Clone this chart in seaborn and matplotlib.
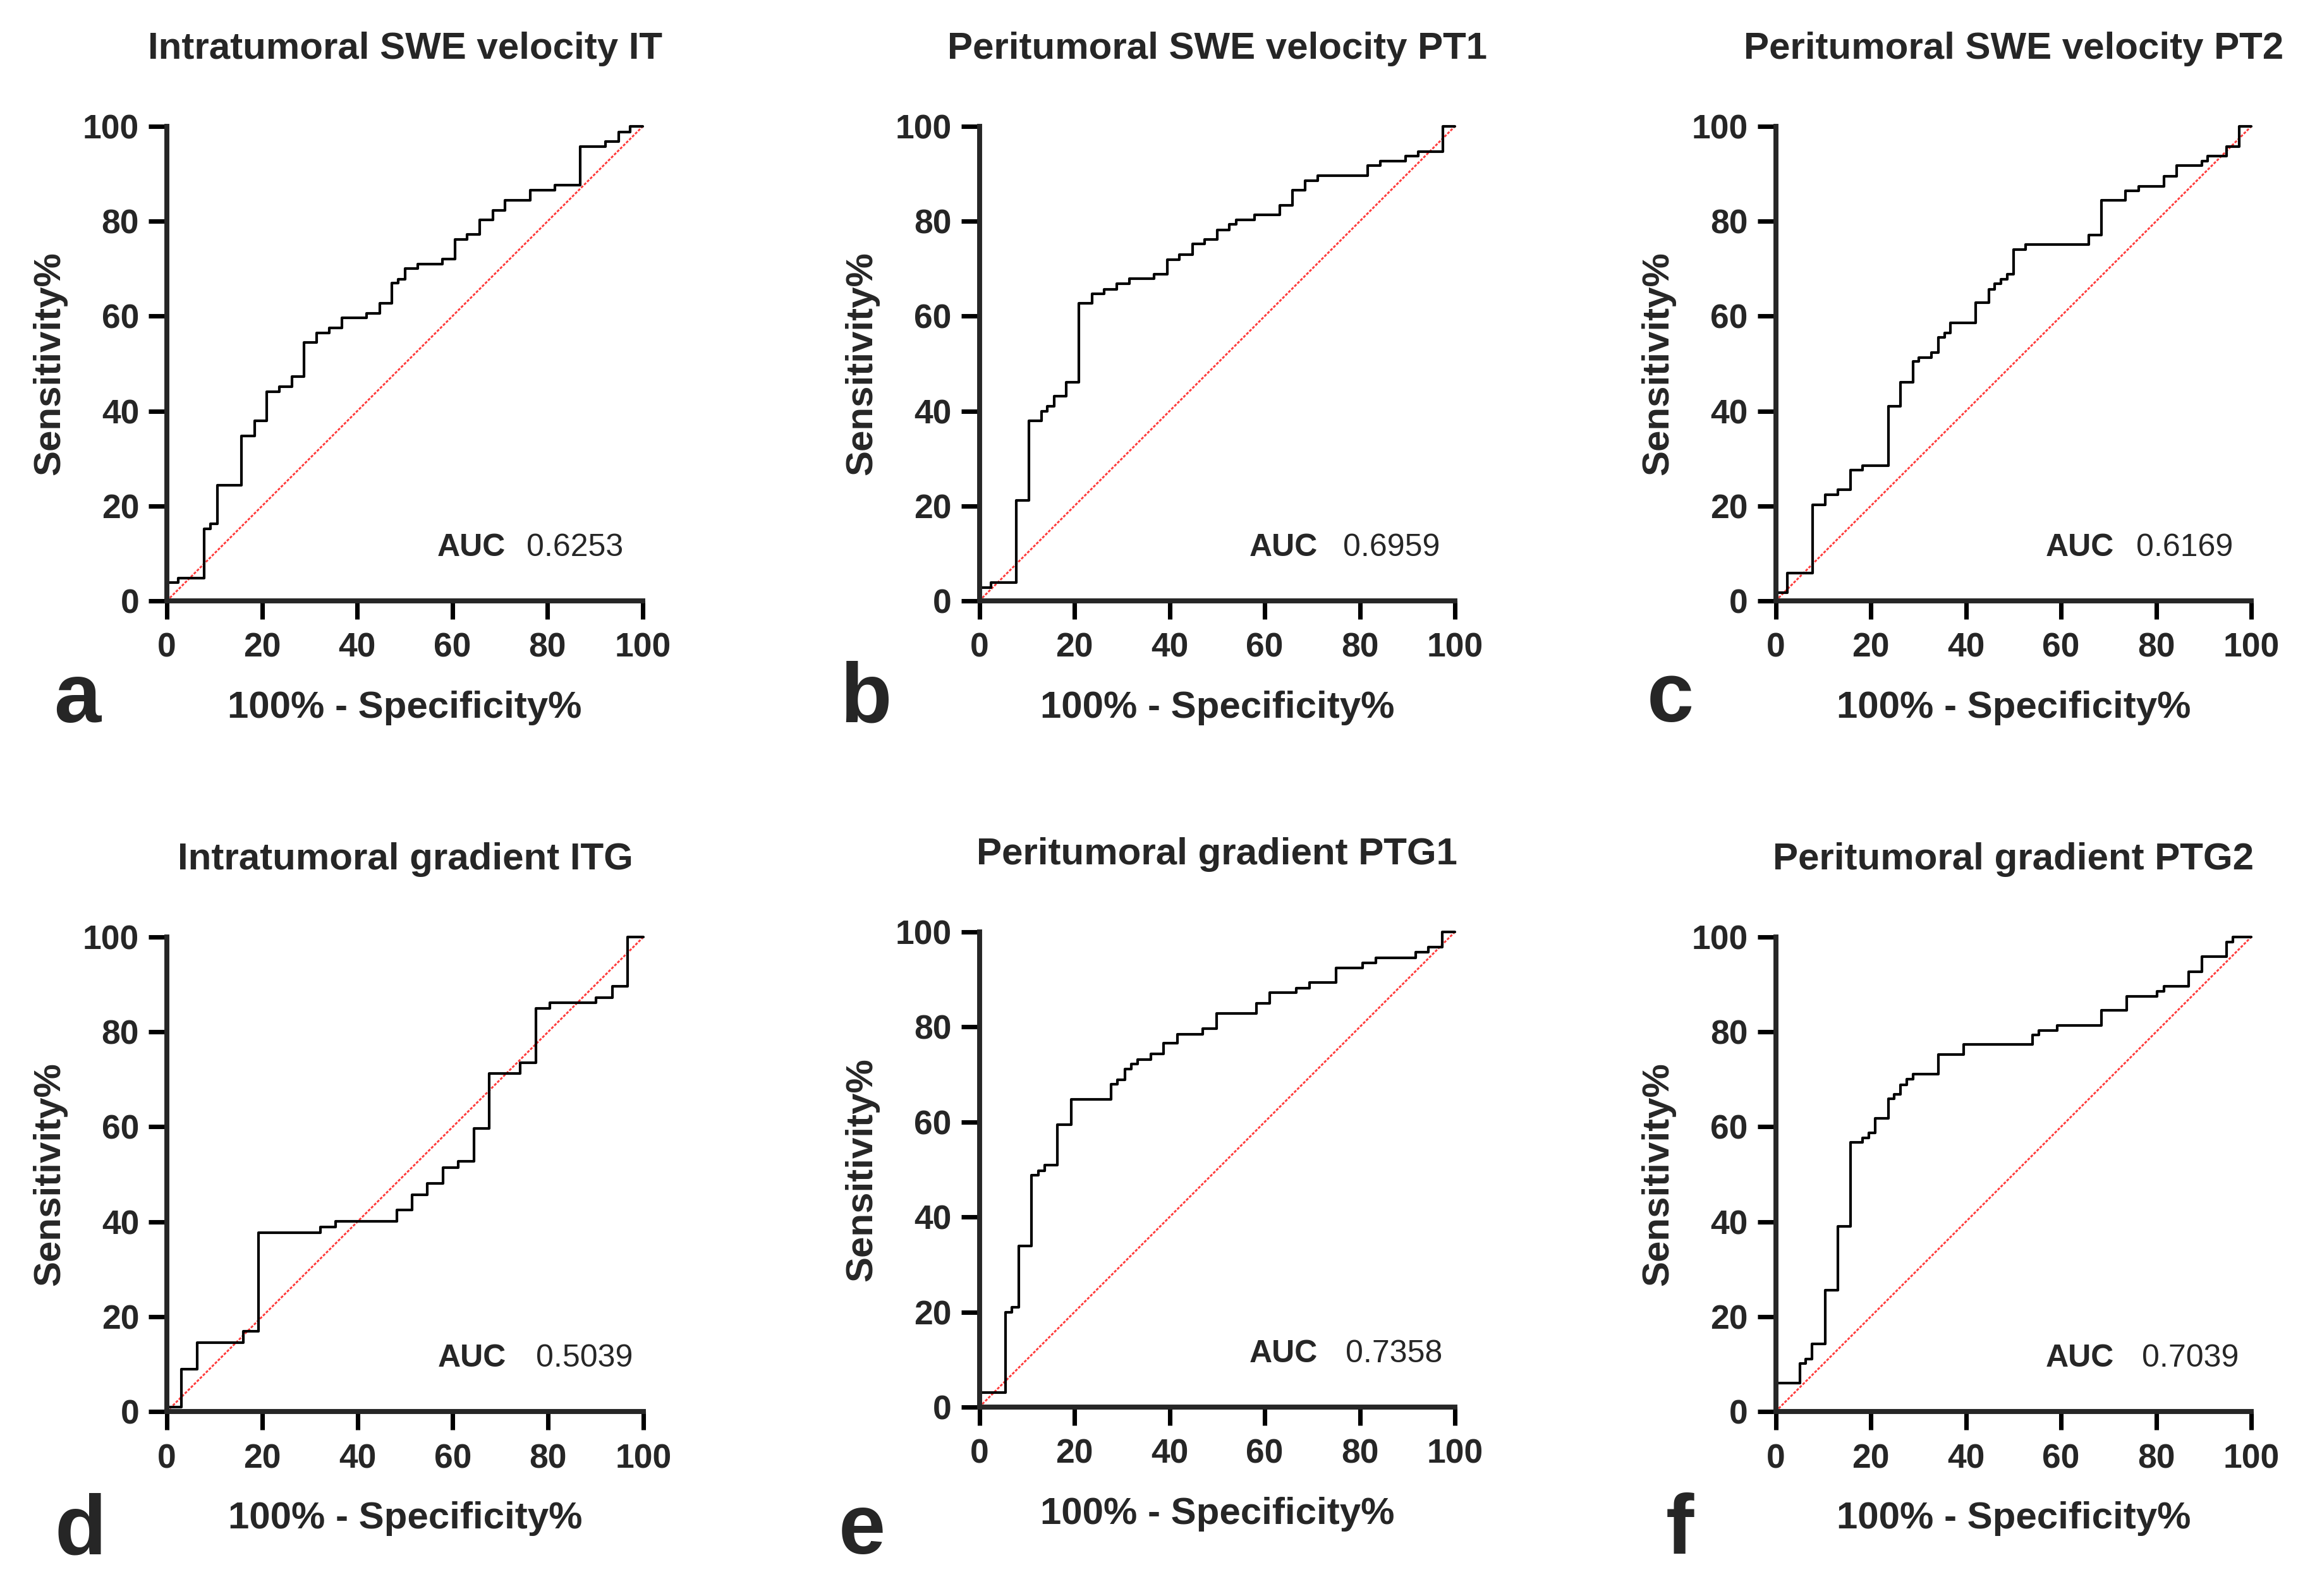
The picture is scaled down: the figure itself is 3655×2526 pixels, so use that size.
import numpy as np
import pandas as pd
import matplotlib
matplotlib.use("Agg")
import matplotlib.pyplot as plt
import seaborn as sns

# ---------------- data ----------------
titles = ["Intratumoral SWE velocity IT", "Peritumoral SWE velocity PT1",
          "Peritumoral SWE velocity PT2", "Intratumoral gradient ITG",
          "Peritumoral gradient PTG1", "Peritumoral gradient PTG2"]
letters = ["a", "b", "c", "d", "e", "f"]
auc_values = ["0.6253", "0.6959", "0.6169", "0.5039", "0.7358", "0.7039"]

fpr_a = [0, 0, 2.45, 7.8, 9.1, 10.6, 15.7, 18.4, 21.0, 23.6, 26.3, 28.8, 31.5, 34.1, 36.8, 42.0, 44.7,
         47.3, 48.6, 50.1, 52.7, 57.9, 60.5, 63.1, 65.7, 68.5, 71.0, 76.3, 81.6, 86.9, 92.2, 94.9, 97.4, 100]
tpr_a = [0, 3.8, 4.8, 15.2, 16.2, 24.4, 34.8, 38.0, 44.1, 45.1, 47.3, 54.5, 56.5, 57.5, 59.6, 60.6, 62.7,
         67.0, 67.8, 70.0, 71.0, 72.0, 76.2, 77.2, 80.3, 82.3, 84.4, 86.5, 87.6, 95.8, 96.8, 98.8, 100, 100]

fpr_b = [0, 0, 2.5, 7.8, 10.4, 13.1, 14.3, 15.7, 18.3, 20.9, 23.7, 26.2, 28.9, 31.5, 36.8, 39.5, 42.1,
         44.8, 47.4, 50.0, 52.6, 54.0, 57.9, 63.2, 65.8, 68.5, 71.2, 81.6, 84.3, 89.6, 92.3, 97.5, 100]
tpr_b = [0, 2.8, 3.8, 21.2, 38.0, 40.0, 41.0, 43.1, 46.1, 62.7, 64.7, 65.7, 66.9, 67.9, 68.9, 71.9, 73.0,
         75.2, 76.2, 78.2, 79.3, 80.3, 81.3, 83.3, 86.5, 88.5, 89.6, 91.7, 92.7, 93.7, 94.7, 100, 100]

fpr_c = [0, 0, 2.4, 7.8, 10.4, 13.1, 15.7, 18.3, 23.7, 26.2, 28.9, 30.1, 32.7, 34.2, 35.5, 36.8, 42.1,
         44.8, 46.0, 47.4, 48.7, 50.0, 52.6, 65.8, 68.5, 73.6, 76.3, 81.6, 84.3, 89.6, 90.8, 94.8, 97.5, 100]
tpr_c = [0, 1.7, 5.9, 20.3, 22.4, 23.4, 27.5, 28.5, 41.0, 46.1, 50.4, 51.3, 52.3, 55.5, 56.5, 58.6, 62.8,
         65.7, 66.8, 67.8, 68.9, 74.1, 75.1, 77.1, 84.4, 86.4, 87.4, 89.5, 91.7, 92.7, 93.7, 95.8, 100, 100]

fpr_d = [0, 0, 3.1, 6.3, 16.0, 19.2, 32.2, 35.4, 48.3, 51.5, 54.7, 58.0, 61.2, 64.4, 67.6, 74.1, 77.4,
         80.4, 90.1, 93.5, 96.7, 100]
tpr_d = [0, 0.9, 8.9, 14.5, 16.9, 37.7, 38.9, 40.1, 42.5, 45.7, 48.1, 51.4, 52.7, 59.6, 71.2, 73.5, 85.0,
         86.1, 87.2, 89.6, 100, 100]

fpr_e = [0, 0, 5.5, 6.8, 8.3, 11.0, 12.4, 13.8, 16.4, 19.4, 27.7, 29.1, 30.6, 32.0, 33.3, 36.1, 38.8,
         41.7, 47.0, 49.9, 58.3, 61.0, 66.7, 69.5, 75.0, 80.6, 83.4, 91.8, 94.4, 97.3, 100]
tpr_e = [0, 3.1, 20.0, 21.0, 33.9, 48.8, 49.8, 50.9, 59.4, 64.7, 67.9, 68.9, 71.1, 72.2, 73.2, 74.4, 76.6,
         78.5, 79.7, 82.8, 85.0, 87.2, 88.2, 89.3, 92.4, 93.5, 94.5, 95.7, 96.8, 100, 100]

fpr_f = [0, 0, 5.1, 6.3, 7.6, 10.4, 13.1, 15.7, 18.3, 19.6, 20.9, 23.7, 24.9, 26.2, 27.6, 28.9, 34.2,
         39.5, 54.0, 55.4, 59.2, 68.5, 73.8, 80.2, 81.6, 86.8, 89.6, 94.8, 96.1, 100]
tpr_f = [0, 6.0, 10.1, 11.1, 14.2, 25.6, 39.0, 56.7, 57.7, 58.7, 61.8, 65.9, 66.9, 68.9, 70.1, 71.1, 75.2,
         77.3, 79.3, 80.3, 81.4, 84.5, 87.5, 88.6, 89.6, 92.7, 95.9, 99.0, 100, 100]

curves = [(fpr_a, tpr_a), (fpr_b, tpr_b), (fpr_c, tpr_c),
          (fpr_d, tpr_d), (fpr_e, tpr_e), (fpr_f, tpr_f)]
ticks = [0, 20, 40, 60, 80, 100]

# ---------------- style ----------------
sns.set_style("ticks")
plt.rcParams["font.family"] = ["Liberation Sans", "DejaVu Sans"]

W, H = 3655, 2526
DPI = 300
fig = plt.figure(figsize=(W / DPI, H / DPI), dpi=DPI)

# axes boxes in pixels: (left, top, right, bottom)
boxes = [(264, 200, 1017, 951), (1549.5, 200, 2302, 951), (2809.5, 200, 3562, 951),
         (264, 1483, 1018, 2234), (1549.5, 1475, 2302, 2227), (2809.5, 1483, 3562, 2234)]
letter_pos = [(85, 1143), (1329, 1142), (2606, 1142), (86, 2459), (1327, 2459), (2636, 2459)]
auc_val_x = [75.6, 76.5, 75.8, 77.4, 77.0, 77.0]

for i in range(6):
    l, t, r, b = boxes[i]
    ax = fig.add_axes([l / W, 1 - b / H, (r - l) / W, (b - t) / H])
    fpr, tpr = curves[i]
    df = pd.DataFrame({"fpr": fpr, "tpr": tpr})
    sns.lineplot(x=[0, 100], y=[0, 100], ax=ax, color="#ff3b3b", lw=0.7,
                 linestyle=(0, (1.5, 0.8)), estimator=None, sort=False, clip_on=False)
    sns.lineplot(data=df, x="fpr", y="tpr", ax=ax, color="black", lw=1.0,
                 drawstyle="steps-post", estimator=None, sort=False, clip_on=False)
    ax.set_xlim(0, 100)
    ax.set_ylim(0, 100)
    ax.set_xticks(ticks)
    ax.set_yticks(ticks)
    sns.despine(ax=ax)
    for s in ["left", "bottom"]:
        ax.spines[s].set_linewidth(1.9)
        ax.spines[s].set_capstyle("projecting")
    ax.tick_params(axis="both", length=7, width=1.7, labelsize=12.8, color="black")
    ax.tick_params(axis="x", pad=5)
    ax.tick_params(axis="y", pad=3.5)
    for lab in ax.get_xticklabels() + ax.get_yticklabels():
        lab.set_fontweight("bold")
    ax.set_xlabel("100% - Specificity%", fontsize=14.4, fontweight="bold", labelpad=10)
    ax.set_ylabel("Sensitivity%", fontsize=14.4, fontweight="bold", labelpad=6)
    ax.set_title(titles[i], fontsize=14.4, fontweight="bold", pad=25.7)
    ax.text(56.8, 9.4, "AUC", fontsize=12, fontweight="bold", va="baseline", ha="left")
    ax.text(auc_val_x[i], 9.4, auc_values[i], fontsize=12, va="baseline", ha="left")
    lx, ly = letter_pos[i]
    fig.text(lx / W, 1 - ly / H, letters[i], fontsize=32, fontweight="bold",
             va="baseline", ha="left")

fig.savefig("out.png", dpi=DPI, facecolor="white")
